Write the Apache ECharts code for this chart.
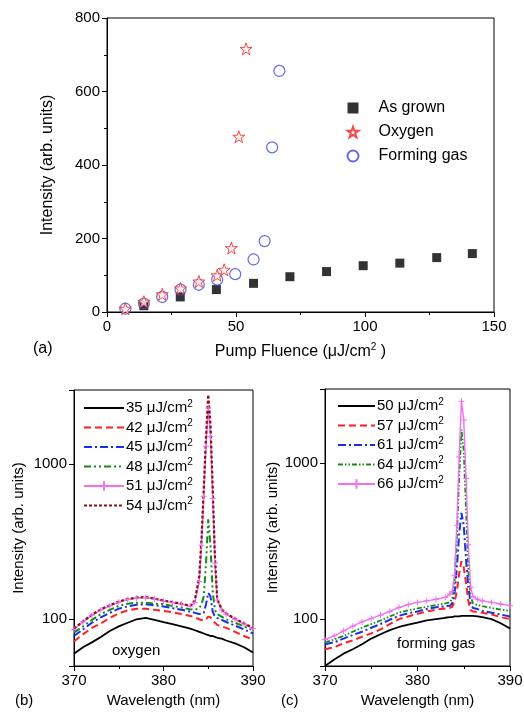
<!DOCTYPE html>
<html>
<head>
<meta charset="utf-8">
<script src="https://cdn.jsdelivr.net/npm/echarts@6/dist/echarts.min.js"></script>
<style>
html, body { margin: 0; padding: 0; background: #fff; }
#chart { width: 524px; height: 715px; }
</style>
</head>
<body>
<div id="chart"></div>
<script>
// (a) peak intensity vs pump fluence
var asGrownX = [14.3, 28.4, 42.4, 56.8, 70.9, 85.1, 99.3, 113.5, 127.8, 141.6];
var asGrownY = [17, 41, 61, 78, 96, 110, 126, 133, 148, 159];
var oxygenX = [7.1, 14.3, 21.4, 28.5, 35.6, 42.7, 45.4, 48.2, 51.1, 53.9];
var oxygenY = [9, 28, 48, 64, 83, 100, 115, 174, 477, 716];
var formingX = [7.1, 14.3, 21.4, 28.5, 35.6, 42.7, 49.7, 56.8, 61.1, 64.0, 66.8];
var formingY = [9, 23, 41, 61, 74, 88, 103, 143, 193, 448, 656];

// (b) oxygen spectra
var wlOxygen = [370, 371, 372, 373, 374, 375, 376, 377, 378, 379, 380, 381, 382, 383, 383.5,
  384, 384.25, 384.5, 384.75, 385, 385.25, 385.5, 385.75, 386, 386.5, 387, 388, 389, 390];
var oxy35 = [60, 66, 71, 77, 84, 90, 95, 100, 102, 99, 96, 93, 90, 87, 85, 83, 82, 81, 80, 79, 78, 78, 77, 76, 75, 73, 70, 66, 61];
var oxy42 = [72, 80, 88, 94, 102, 109, 114, 117, 117, 115, 113, 111, 108, 105, 103, 100, 99, 98, 100, 104, 103, 98, 95, 92, 90, 88, 83, 78, 74];
var oxy45 = [78, 86, 95, 103, 110, 117, 121, 124, 125, 123, 121, 118, 115, 112, 110, 108, 108, 110, 125, 148, 140, 112, 104, 102, 99, 96, 91, 86, 81];
var oxy48 = [82, 90, 99, 108, 115, 122, 126, 128, 128, 126, 125, 122, 119, 116, 115, 118, 125, 140, 230, 440, 300, 150, 115, 108, 104, 100, 95, 90, 85];
var oxy51 = [86, 96, 106, 115, 122, 129, 134, 137, 138, 135, 131, 128, 125, 121, 128, 175, 300, 620, 1300, 2300, 1500, 600, 230, 133, 115, 108, 100, 93, 87];
var oxy54 = [87, 97, 107, 116, 123, 130, 135, 138, 139, 136, 132, 129, 126, 122, 132, 190, 330, 700, 1500, 2800, 1800, 700, 250, 135, 116, 109, 101, 94, 88];
var oxygenFluence = [35, 42, 45, 48, 51, 54];

// (c) forming gas spectra
var wlForming = [370, 371, 372, 373, 374, 375, 376, 377, 378, 379, 380, 381, 382, 383, 383.5, 383.75,
  384, 384.25, 384.5, 384.75, 385, 385.25, 385.5, 385.75, 386, 386.5, 387, 388, 389, 390];
var fg50 = [50, 55, 60, 64, 69, 75, 80, 85, 89, 92, 95, 98, 100, 102, 103, 103, 104, 104, 104, 105, 105, 105, 105, 105, 105, 104, 103, 100, 94, 87];
var fg57 = [64, 66, 70, 73, 77, 81, 86, 93, 100, 104, 108, 112, 115, 117, 118, 120, 128, 150, 195, 235, 215, 170, 130, 114, 112, 111, 110, 107, 103, 100];
var fg61 = [69, 71, 75, 79, 83, 88, 93, 99, 105, 109, 112, 116, 119, 121, 122, 126, 145, 210, 350, 480, 400, 240, 160, 125, 118, 116, 113, 110, 107, 104];
var fg64 = [71, 74, 78, 83, 88, 93, 98, 104, 110, 114, 117, 120, 123, 126, 128, 135, 170, 330, 800, 1650, 1200, 500, 200, 140, 126, 123, 121, 118, 115, 113];
var fg66 = [74, 78, 84, 90, 96, 101, 106, 112, 119, 124, 128, 131, 134, 138, 145, 150, 190, 400, 1100, 2500, 1900, 800, 300, 160, 140, 134, 131, 128, 125, 122];
var formingFluence = [50, 57, 61, 64, 66];

var FONT = '"Liberation Sans", Arial, sans-serif';
var starPath = 'path://M50,2 L61.8,36 L97.6,36 L68.9,57.6 L79.4,92 L50,71.3 L20.6,92 L31.1,57.6 L2.4,36 L38.2,36 Z';
var plusPath = 'path://M5,0 L5,10 M0,5 L10,5';

function pairs(xs, ys) {
  return xs.map(function (x, i) { return [x, ys[i]]; });
}

// line looks for each trace, in legend order
var looks = [
  { color: '#000000', type: 'solid', width: 1.8 },
  { color: '#ff2020', type: [7, 4], width: 2 },
  { color: '#1a2ee8', type: [8, 3, 2, 3], width: 2 },
  { color: '#158a15', type: [7, 3, 2, 3, 2, 3], width: 2 },
  { color: '#f070f0', type: 'solid', width: 1.4, symbol: plusPath },
  { color: '#8b1010', type: [3, 2], width: 2.2 }
];

function spectrum(name, xs, ys, idx, look) {
  return {
    type: 'line',
    name: name,
    xAxisIndex: idx,
    yAxisIndex: idx,
    data: pairs(xs, ys),
    symbol: look.symbol || 'none',
    symbolSize: 6,
    itemStyle: { color: look.color, borderColor: look.color, borderWidth: 1 },
    lineStyle: { color: look.color, type: look.type, width: look.width }
  };
}

var sup = {
  a: { fontSize: 15, fontFamily: FONT, color: '#000', lineHeight: 18 },
  s: { fontSize: 10, fontFamily: FONT, color: '#000', lineHeight: 10, verticalAlign: 'top' }
};
function supName(name) {
  return '{a|' + name.slice(0, -1) + '}{s|2}';
}

// legend entries: hide the default symbol unless the trace has markers
function legendItems(names, lookList) {
  return names.map(function (n, i) {
    return lookList[i].symbol ? { name: n } : { name: n, itemStyle: { opacity: 0 } };
  });
}

function baseAxis(extra) {
  var ax = {
    axisLine: { show: true, onZero: false, lineStyle: { color: '#000', width: 1 } },
    axisTick: { show: true, length: 5, lineStyle: { color: '#000' } },
    minorTick: { show: true, splitNumber: 2, length: 3, lineStyle: { color: '#000' } },
    axisLabel: { color: '#000', fontSize: 15, fontFamily: FONT, margin: 7 },
    splitLine: { show: false },
    minorSplitLine: { show: false },
    nameLocation: 'middle',
    nameTextStyle: { color: '#000', fontSize: 15, fontFamily: FONT }
  };
  for (var k in extra) ax[k] = extra[k];
  return ax;
}

function logLabel(v) {
  var l = Math.log10(v);
  return Math.abs(l - Math.round(l)) < 1e-6 && (Math.round(l) === 2 || Math.round(l) === 3) ? String(Math.round(v)) : '';
}

var series = [
  { type: 'scatter', name: 'As grown', xAxisIndex: 0, yAxisIndex: 0, data: pairs(asGrownX, asGrownY),
    symbol: 'rect', symbolSize: 9, itemStyle: { color: '#000' }, z: 2 },
  { type: 'scatter', name: 'Oxygen', xAxisIndex: 0, yAxisIndex: 0, data: pairs(oxygenX, oxygenY),
    symbol: starPath, symbolSize: 12, itemStyle: { color: '#fff0f0', borderColor: '#ee2020', borderWidth: 1 }, z: 4 },
  { type: 'scatter', name: 'Forming gas', xAxisIndex: 0, yAxisIndex: 0, data: pairs(formingX, formingY),
    symbol: 'circle', symbolSize: 11, itemStyle: { color: 'rgba(255,255,255,0)', borderColor: '#3a46e0', borderWidth: 1.2 }, z: 3 }
];

var oxygenSpectra = [oxy35, oxy42, oxy45, oxy48, oxy51, oxy54];
var oxygenNames = oxygenFluence.map(function (f) { return f + ' μJ/cm2'; });
oxygenSpectra.forEach(function (ys, i) {
  series.push(spectrum(oxygenNames[i], wlOxygen, ys, 1, looks[i]));
});

var formingSpectra = [fg50, fg57, fg61, fg64, fg66];
var formingLooks = [looks[0], looks[1], looks[2],
  { color: '#158a15', type: [5, 2, 1.5, 2, 1.5, 2], width: 1.8 }, looks[4]];
var formingNames = formingFluence.map(function (f) { return f + ' μJ/cm2'; });
formingSpectra.forEach(function (ys, i) {
  series.push(spectrum(formingNames[i], wlForming, ys, 2, formingLooks[i]));
});

var chart = echarts.init(document.getElementById('chart'), null, { renderer: 'canvas' });

chart.setOption({
  animation: false,
  backgroundColor: '#fff',
  textStyle: { fontFamily: FONT, color: '#000' },
  grid: [
    { left: 107, top: 18, width: 387, height: 294, show: true, borderColor: '#000', borderWidth: 1, containLabel: false, outerBoundsMode: 'none' },
    { left: 74, top: 390, width: 179, height: 276, show: true, borderColor: '#000', borderWidth: 1, containLabel: false, outerBoundsMode: 'none' },
    { left: 325, top: 389, width: 185, height: 277, show: true, borderColor: '#000', borderWidth: 1, containLabel: false, outerBoundsMode: 'none' }
  ],
  xAxis: [
    baseAxis({ gridIndex: 0, type: 'value', min: 0, max: 150, interval: 50,
      name: '{a|Pump Fluence (μJ/cm}{s|2}{a| )}', nameGap: 30,
      nameTextStyle: { rich: { a: { fontSize: 16, fontFamily: FONT, color: '#000', lineHeight: 20 },
        s: { fontSize: 10, fontFamily: FONT, color: '#000', lineHeight: 10, verticalAlign: 'top' } } } }),
    baseAxis({ gridIndex: 1, type: 'value', min: 370, max: 390, interval: 10,
      name: 'Wavelength (nm)', nameGap: 27 }),
    baseAxis({ gridIndex: 2, type: 'value', min: 370, max: 390, interval: 10,
      name: 'Wavelength (nm)', nameGap: 27 })
  ],
  yAxis: [
    baseAxis({ gridIndex: 0, type: 'value', min: 0, max: 800, interval: 200,
      name: 'Intensity (arb. units)', nameGap: 51,
      nameTextStyle: { color: '#000', fontSize: 16, fontFamily: FONT } }),
    baseAxis({ gridIndex: 1, type: 'log', logBase: 10, min: 50, max: 3000,
      minorTick: { show: false },
      axisLabel: { color: '#000', fontSize: 15, fontFamily: FONT, margin: 7, formatter: logLabel },
      name: 'Intensity (arb. units)', nameGap: 48 }),
    baseAxis({ gridIndex: 2, type: 'log', logBase: 10, min: 50, max: 3000,
      minorTick: { show: false },
      axisLabel: { color: '#000', fontSize: 15, fontFamily: FONT, margin: 7, formatter: logLabel },
      name: 'Intensity (arb. units)', nameGap: 40 })
  ],
  legend: [
    {
      orient: 'vertical', left: 341.5, top: 95, itemWidth: 11, itemHeight: 11, itemGap: 8,
      selectedMode: false,
      data: [
        { name: 'As grown', icon: 'rect' },
        { name: 'Oxygen', icon: starPath },
        { name: 'Forming gas', icon: 'circle' }
      ],
      textStyle: { fontSize: 16, fontFamily: FONT, color: '#000', padding: [0, 0, 0, 15] }
    },
    {
      orient: 'vertical', left: 78, top: 394, itemWidth: 40, itemHeight: 12, itemGap: 3,
      selectedMode: false,
      data: legendItems(oxygenNames, looks),
      formatter: supName,
      textStyle: { rich: sup, padding: [0, 0, 0, -3] }
    },
    {
      orient: 'vertical', left: 332, top: 392, itemWidth: 37, itemHeight: 12, itemGap: 3,
      selectedMode: false,
      data: legendItems(formingNames, formingLooks),
      formatter: supName,
      textStyle: { rich: sup, padding: [0, 0, 0, -3] }
    }
  ],
  series: series,
  graphic: [
    { type: 'text', left: 33, top: 341, style: { text: '(a)', fontSize: 16, fontFamily: FONT, fill: '#000' } },
    { type: 'text', left: 15, top: 693, style: { text: '(b)', fontSize: 15, fontFamily: FONT, fill: '#000' } },
    { type: 'text', left: 281, top: 693, style: { text: '(c)', fontSize: 15, fontFamily: FONT, fill: '#000' } },
    { type: 'text', left: 112, top: 643, style: { text: 'oxygen', fontSize: 15, fontFamily: FONT, fill: '#000' } },
    { type: 'text', left: 397, top: 636, style: { text: 'forming gas', fontSize: 15, fontFamily: FONT, fill: '#000' } }
  ]
});
</script>
</body>
</html>
